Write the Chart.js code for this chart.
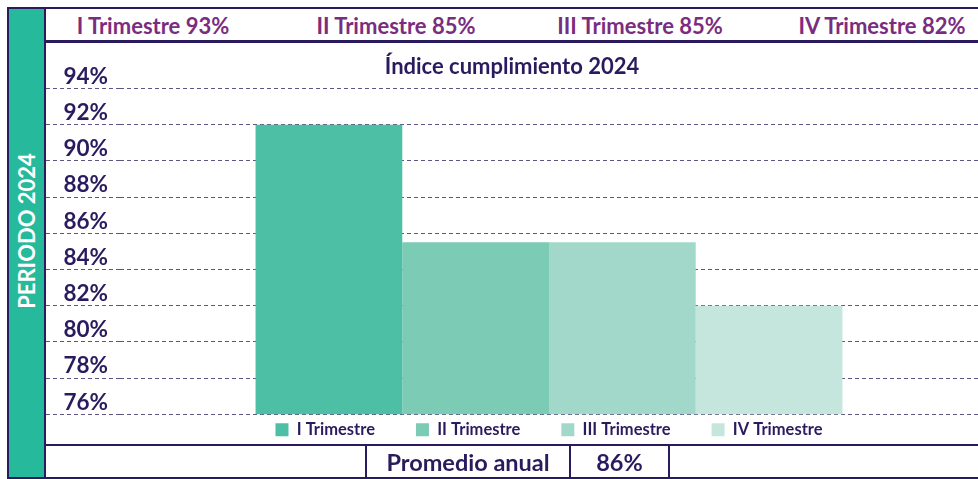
<!DOCTYPE html>
<html>
<head>
<meta charset="utf-8">
<script src="https://cdn.jsdelivr.net/npm/chart.js@4"></script>
<style>
  body { margin: 0; background: #fff; font-family: Lato, 'Open Sans', sans-serif; }
  #wrap { position: relative; width: 978px; height: 479px; overflow: hidden; }
  #frame { position: absolute; left: 7px; top: 7px; width: 990px; height: 472px; box-sizing: border-box; border: 2px solid #2a1b5e; }
  #strip { position: absolute; left: 9px; top: 9px; width: 37px; height: 468px; box-sizing: border-box; background: #27b99b; border-right: 2px solid #2a1b5e; }
  #strip span { position: absolute; left: 17px; top: 222px; transform: translate(-50%, -50%) rotate(-90deg); color: #fff; font-weight: 700; font-size: 22px; white-space: nowrap; }
  #header { position: absolute; left: 46px; top: 9px; width: 940px; height: 34px; box-sizing: border-box; border-bottom: 3px solid #2a1b5e; }
  .hd { position: absolute; top: 16px; transform: translate(-50%, -50%); color: #7a2d7e; font-weight: 700; font-size: 22px; white-space: nowrap; }
  #chart-box { position: absolute; left: 46px; top: 43px; width: 932px; height: 405px; }
  #footer { position: absolute; left: 46px; top: 444px; width: 940px; height: 34px; box-sizing: border-box; border-top: 2px solid #2a1b5e; }
  .cell { position: absolute; top: 0; height: 32px; box-sizing: border-box; border-left: 2px solid #2a1b5e; color: #2a1b5e; font-weight: 700; font-size: 23.5px; line-height: 32px; text-align: center; }
</style>
</head>
<body>
<div id="wrap">
  <div id="frame"></div>
  <div id="strip"><span>PERIODO 2024</span></div>
  <div id="header"></div>
  <div id="chart-box"><canvas id="chart" width="932" height="405"></canvas></div>
  <div id="footer">
    <div class="cell" style="left:319px;width:204px;" id="avgLabel"></div>
    <div class="cell" style="left:523px;width:99px;" id="avgValue"></div>
    <div class="cell" style="left:622px;width:10px;"></div>
  </div>
</div>
<script>
var quarters = ['I Trimestre', 'II Trimestre', 'III Trimestre', 'IV Trimestre'];
var headerPct = [93, 85, 85, 82];
var indice = [92, 85.5, 85.5, 82];
var barColors = ['#4dbfa5', '#7bcbb5', '#a2d8ca', '#c5e6dc'];
var yTicks = [76, 78, 80, 82, 84, 86, 88, 90, 92, 94];
var promedio = ['Promedio anual', '86%'];

var NAVY = '#2a1b5e';
var GRID = 'rgba(42,27,94,0.75)';

// header row
var headerCenters = [107, 350, 594, 836];
var header = document.getElementById('header');
quarters.forEach(function (q, i) {
  var d = document.createElement('div');
  d.className = 'hd';
  d.style.left = headerCenters[i] + 'px';
  d.textContent = q + ' ' + headerPct[i] + '%';
  header.appendChild(d);
});

document.getElementById('avgLabel').textContent = promedio[0];
document.getElementById('avgValue').textContent = promedio[1];

const data = {
  labels: ['2024'],
  datasets: quarters.map(function (q, i) {
    return {
      label: q,
      data: [indice[i]],
      backgroundColor: barColors[i],
      borderWidth: 0,
    };
  }),
};

const config = {
  type: 'bar',
  data: data,
  options: {
    responsive: false,
    animation: false,
    categoryPercentage: 0.684,
    barPercentage: 1,
    plugins: {
      title: {
        display: true,
        text: 'Índice cumplimiento 2024',
        color: NAVY,
        font: { family: 'Lato', size: 22, weight: 'bold' },
        padding: { top: 11, bottom: 8.1 },
      },
      legend: {
        position: 'bottom',
        fullSize: false,
        title: {
          display: true,
          text: '',
          font: { size: 1, lineHeight: 1 },
          padding: { top: -34.75, bottom: 0 }, // pulls the legend row up under the plot
        },
        labels: {
          boxWidth: 13,
          boxHeight: 13,
          padding: 41,
          color: NAVY,
          font: { family: 'Lato', size: 16.5, weight: 'bold' },
        },
      },
      tooltip: { enabled: false },
    },
    scales: {
      x: { display: false },
      y: {
        min: 76,
        max: 94,
        z: 1, // dashed grid sits on top of the bars
        afterFit: function (scale) {
          scale.width = 74;
        },
        afterBuildTicks: function (scale) {
          scale.ticks = yTicks.map(function (v) { return { value: v }; });
        },
        border: { display: false, dash: [4, 3] },
        grid: {
          color: GRID,
          lineWidth: 1,
          drawTicks: true,
          tickLength: 74,
          tickColor: GRID,
          tickBorderDash: [4, 3],
        },
        ticks: {
          padding: -62,
          labelOffset: -12,
          color: NAVY,
          font: { family: 'Lato', size: 22.5, weight: 'bold' },
          callback: function (v) { return v + '%'; },
        },
      },
    },
  },
};

var myChart = new Chart(document.getElementById('chart'), config);
</script>
</body>
</html>
